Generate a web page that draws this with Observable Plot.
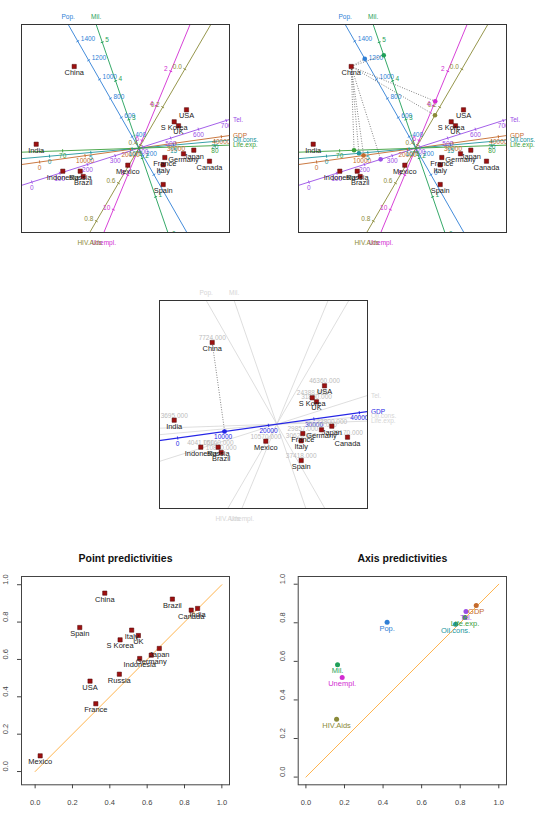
<!DOCTYPE html>
<html>
<head>
<meta charset="utf-8">
<script src="https://cdn.jsdelivr.net/npm/d3@7"></script>
<script src="https://cdn.jsdelivr.net/npm/@observablehq/plot@0.6"></script>
<style>
  body { margin: 0; background: #fff; }
  #page { position: relative; width: 535px; height: 827px; overflow: hidden; background: #fff; }
  #page svg { position: absolute; }
</style>
</head>
<body>
<div id="page"></div>
<script>
// ---- Biplot sample coordinates (first two principal axes) ----
const countries = ["China", "USA", "S Korea", "UK", "India", "Japan", "Germany", "France",
  "Italy", "Canada", "Mexico", "Indonesia", "Russia", "Brazil", "Spain"];
const dim1 = [-0.646, 0.477, 0.354, 0.397, -1.026, 0.55, 0.447, 0.26, 0.244, 0.707, -0.11, -0.76, -0.586, -0.556, 0.244];
const dim2 = [0.817, 0.384, 0.264, 0.224, 0.04, -0.02, -0.056, -0.093, -0.166, -0.13, -0.17, -0.23, -0.23, -0.283, -0.363];
const gdpRecorded = [7724, 46360, 24388, 31850, 3695, 33800, 35610, 29857, 30620, 39170, 10570, 4041, 15160, 10890, 37418];

// ---- Calibrated variable axes ----
const variables = ["Pop.", "Mil.", "Unempl.", "HIV.Aids", "Tel.", "GDP", "Oil.cons.", "Life.exp."];
const axisDirX = [-0.4956, -0.326, -0.383, -0.503, 0.953, 0.990, 0.996, 0.9994];
const axisDirY = [0.8686, 0.9454, -0.924, -0.864, 0.302, 0.138, 0.089, 0.034];
const axisCentre = [278, 2.26, 6.45, 0.416, 385, 21824, 10.8, 75.0];        // value at the origin
const axisUnit = [0.0010975, 0.409, 0.1873, 2.199, 0.002913, 4.59e-5, 0.083, 0.1524]; // length per unit
const axisTickLabels = [
  ["0", "200", "400", "600", "800", "1000", "1200", "1400"],
  ["0", "1", "2", "3", "4", "5"],
  ["2", "4", "6", "8", "10"],
  ["0.0", "0.2", "0.4", "0.6", "0.8"],
  ["0", "100", "200", "300", "400", "500", "600", "700"],
  ["0", "10000", "20000", "30000", "40000"],
  ["0", "5", "10", "15", "20"],
  ["70", "75", "80"]
];

// ---- Predictivities (1 and 2 dimensions) ----
const pointPred1 = [0.373, 0.294, 0.455, 0.553, 0.870, 0.665, 0.622, 0.325, 0.517, 0.836, 0.027, 0.560, 0.451, 0.735, 0.239];
const pointPred2 = [0.955, 0.484, 0.705, 0.728, 0.873, 0.659, 0.623, 0.363, 0.757, 0.864, 0.084, 0.605, 0.521, 0.923, 0.771];
const axisPred1 = [0.421, 0.164, 0.188, 0.159, 0.830, 0.883, 0.776, 0.825];
const axisPred2 = [0.803, 0.582, 0.516, 0.300, 0.858, 0.889, 0.793, 0.827];
const predTickLabels = ["0.0", "0.2", "0.4", "0.6", "0.8", "1.0"];
const diagonal = [0, 1];

// ---- Styling ----
const font = "'Liberation Sans', Arial, Helvetica, sans-serif";
const axisColour = {
  "Pop.": "#2f7fd6", "Mil.": "#1f9f58", "Unempl.": "#d22cd2", "HIV.Aids": "#8a8a38",
  "Tel.": "#9a4ee6", "GDP": "#c46a2c", "Oil.cons.": "#21969e", "Life.exp.": "#3a9e3a"
};
const tickSide = {"Pop.": "right", "Mil.": "right", "Unempl.": "left", "HIV.Aids": "left"};
const pointFill = "#9e1010", pointStroke = "#4a0000";
const faint = "#d6d6d6", gdpBlue = "#2525e6";
const biX = [-1.173, 0.907], biY = [-0.843, 1.237];

const samples = countries.map((name, i) => ({name, x: dim1[i], y: dim2[i], gdp: gdpRecorded[i]}));
const axes = variables.map((name, i) => ({
  name, ux: axisDirX[i], uy: axisDirY[i], centre: axisCentre[i], unit: axisUnit[i],
  ticks: axisTickLabels[i], colour: axisColour[name], side: tickSide[name] || "below"
}));

// where the positive end of an axis leaves the plotting frame
function axisExit(a) {
  const c = [];
  if (a.ux > 0) c.push([biX[1] / a.ux, "right"]);
  if (a.ux < 0) c.push([biX[0] / a.ux, "left"]);
  if (a.uy > 0) c.push([biY[1] / a.uy, "top"]);
  if (a.uy < 0) c.push([biY[0] / a.uy, "bottom"]);
  const [t, side] = c.reduce((p, q) => (p[0] < q[0] ? p : q));
  return {x: t * a.ux, y: t * a.uy, side};
}

function biplot(mode, left, top) {
  const colourOf = (a) => mode === "gdp" ? (a.name === "GDP" ? gdpBlue : faint) : a.colour;
  const lines = axes.map(a => ({a, colour: colourOf(a), x1: -4 * a.ux, y1: -4 * a.uy, x2: 4 * a.ux, y2: 4 * a.uy}));
  const calibrated = mode === "gdp" ? axes.filter(a => a.name === "GDP") : axes;
  const h = 0.016;
  const ticks = calibrated.flatMap(a => a.ticks.map(s => {
    const t = (+s - a.centre) * a.unit, x = t * a.ux, y = t * a.uy;
    return {label: s, side: a.side, colour: colourOf(a), x, y,
      x1: x + h * a.uy, y1: y - h * a.ux, x2: x - h * a.uy, y2: y + h * a.ux};
  }));
  const titles = axes.map(a => ({name: a.name, colour: colourOf(a), ...axisExit(a)}));
  const china = samples.find(d => d.name === "China");
  const projAxes = mode === "china" ? axes : mode === "gdp" ? calibrated : [];
  const proj = projAxes.map(a => {
    const s = china.x * a.ux + china.y * a.uy;
    return {x: s * a.ux, y: s * a.uy, colour: mode === "gdp" ? gdpBlue : a.colour};
  });
  const labelStyle = {fontSize: 6.5, clip: true};
  const marks = [
    Plot.link(lines.filter(d => d.colour === faint), {x1: "x1", y1: "y1", x2: "x2", y2: "y2", stroke: "colour", strokeWidth: 0.8, clip: true}),
    Plot.link(lines.filter(d => d.colour !== faint), {x1: "x1", y1: "y1", x2: "x2", y2: "y2", stroke: "colour", strokeWidth: mode === "gdp" ? 1.2 : 0.9, clip: true}),
    Plot.link(ticks, {x1: "x1", y1: "y1", x2: "x2", y2: "y2", stroke: "colour", strokeWidth: 0.9, clip: true}),
    Plot.text(ticks.filter(d => d.side === "right"), {x: "x", y: "y", text: "label", fill: "colour", textAnchor: "start", dx: 3, dy: -2, ...labelStyle}),
    Plot.text(ticks.filter(d => d.side === "left"), {x: "x", y: "y", text: "label", fill: "colour", textAnchor: "end", dx: -3, dy: -2, ...labelStyle}),
    Plot.text(ticks.filter(d => d.side === "below"), {x: "x", y: "y", text: "label", fill: "colour", dy: 5.5, ...labelStyle}),
    Plot.text(titles.filter(d => d.side === "top"), {x: "x", y: "y", text: "name", fill: "colour", dy: -7.5, fontSize: 6.5}),
    Plot.text(titles.filter(d => d.side === "bottom"), {x: "x", y: "y", text: "name", fill: "colour", dy: 10, fontSize: 6.5}),
    Plot.text(titles.filter(d => d.side === "right"), {x: "x", y: "y", text: "name", fill: "colour", textAnchor: "start", dx: 3.5, fontSize: 6.5}),
    Plot.link(proj, {x1: () => china.x, y1: () => china.y, x2: "x", y2: "y", stroke: "#555", strokeWidth: 0.8, strokeDasharray: "0.9,1.6"}),
    Plot.dot(proj, {x: "x", y: "y", r: 2.3, fill: "colour"})
  ];
  if (mode === "gdp") {
    marks.push(Plot.text(samples, {x: "x", y: "y", text: d => d.gdp.toFixed(3), fill: "#bcbcbc", dy: -4.5, fontSize: 6.5}));
  }
  marks.push(
    Plot.dot(samples, {x: "x", y: "y", symbol: "square", r: 2.4, fill: pointFill, stroke: pointStroke, strokeWidth: 0.5}),
    Plot.text(samples, {x: "x", y: "y", text: "name", dy: 6, fontSize: 7.4, fill: "#1a1a1a"}),
    Plot.frame({stroke: "#333", strokeWidth: 1})
  );
  const svg = Plot.plot({
    width: 268, height: 250, marginLeft: 21, marginRight: 39, marginTop: 24, marginBottom: 18,
    x: {domain: biX, axis: null}, y: {domain: biY, axis: null},
    color: {type: "identity"},
    style: {fontFamily: font, background: "transparent"},
    marks
  });
  svg.style.left = left + "px";
  svg.style.top = top + "px";
  return svg;
}

function predictivityPlot({title, data, symbol, left, width, marginLeft, marginRight, xDomain, yDomain}) {
  const ticks = predTickLabels.map(s => +s);
  const fmt = d3.format(".1f");
  const svg = Plot.plot({
    width, height: 287, marginLeft, marginRight, marginTop: 36, marginBottom: 42.7,
    x: {domain: xDomain}, y: {domain: yDomain},
    color: {type: "identity"},
    style: {fontFamily: font, background: "transparent"},
    marks: [
      Plot.line(diagonal, {x: d => d, y: d => d, stroke: "#ffac3a", strokeWidth: 0.9}),
      Plot.axisX({ticks, tickSize: 4, tickPadding: 11, tickFormat: fmt, fontSize: 7.5, color: "#444", label: null}),
      Plot.axisY({ticks, tickSize: 4, tickFormat: () => "", color: "#444", label: null}),
      Plot.text(ticks, {y: d => d, frameAnchor: "left", dx: -16, rotate: -90, text: fmt, fontSize: 7.5, fill: "#444"}),
      Plot.text([title], {frameAnchor: "top", dy: -22, text: d => d, fontSize: 10.5, fontWeight: "bold", fill: "#111"}),
      Plot.dot(data, {x: "x", y: "y", symbol, r: symbol === "square" ? 2.4 : 2.5, fill: "fill", stroke: "stroke", strokeWidth: 0.5}),
      Plot.text(data, {x: "x", y: "y", text: "name", dy: 6, fontSize: 7.5, fill: "label"}),
      Plot.frame({stroke: "#444", strokeWidth: 1})
    ]
  });
  svg.style.left = left + "px";
  svg.style.top = "540px";
  return svg;
}

const page = document.getElementById("page");
page.append(biplot("full", 0, 0));
page.append(biplot("china", 277, 0));
page.append(biplot("gdp", 138, 276));

page.append(predictivityPlot({
  title: "Point predictivities", symbol: "square", left: 0, width: 268, marginLeft: 21, marginRight: 39,
  xDomain: [-0.073, 1.041], yDomain: [-0.071, 1.044],
  data: countries.map((name, i) => ({name, x: pointPred1[i], y: pointPred2[i], fill: pointFill, stroke: pointStroke, label: "#222"}))
}));
page.append(predictivityPlot({
  title: "Axis predictivities", symbol: "circle", left: 268, width: 267, marginLeft: 29.7, marginRight: 29,
  xDomain: [-0.04, 1.04], yDomain: [-0.04, 1.04],
  data: variables.map((name, i) => ({name, x: axisPred1[i], y: axisPred2[i], fill: axisColour[name], stroke: "none", label: axisColour[name]}))
}));
</script>
</body>
</html>
